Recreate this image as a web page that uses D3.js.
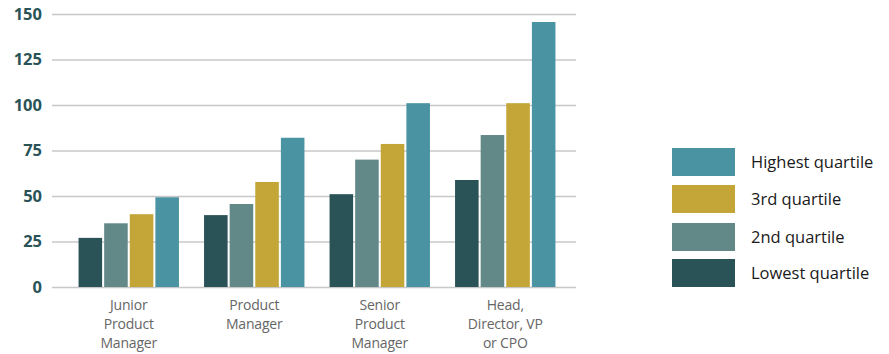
<!DOCTYPE html>
<html>
<head>
<meta charset="utf-8">
<script src="https://cdn.jsdelivr.net/npm/d3@7/dist/d3.min.js"></script>
<style>
  body { margin: 0; background: #fff; }
  svg { display: block; }
</style>
</head>
<body>
<div id="main"></div>
<script>
// data
var categories = [["Junior", "Product", "Manager"], ["Product", "Manager"], ["Senior", "Product", "Manager"], ["Head,", "Director, VP", "or CPO"]];
var seriesNames = ["Lowest quartile", "2nd quartile", "3rd quartile", "Highest quartile"];
var lowest = [27, 39.5, 51, 58.8];
var second = [35, 45.6, 70, 83.5];
var third = [40, 57.7, 78.6, 101];
var highest = [49.3, 82, 101, 145.6];
var yTicks = [0, 25, 50, 75, 100, 125, 150];
var colors = ["#2a5358", "#628888", "#c3a637", "#4a93a3"];

var width = 889, height = 354;
var translate = function(x, y) { return "translate(" + x + "," + y + ")"; };

var svg = d3.select("#main").append("svg")
    .attr("width", width)
    .attr("height", height);

var series = [lowest, second, third, highest];
var data = categories.map(function(c, i) {
  return { cat: i, values: series.map(function(s, j) { return { key: j, value: s[i] }; }) };
});

var y = d3.scaleLinear().domain([0, 150]).range([287, 14]);

var x0 = d3.scaleBand()
    .domain(d3.range(categories.length))
    .range([66, 568])
    .paddingInner(0.2)
    .paddingOuter(0.1);

var x1 = d3.scaleBand()
    .domain(d3.range(seriesNames.length))
    .range([0, x0.bandwidth()])
    .paddingInner(0.08);

// grid lines
var ga = svg.append("g")
    .attr("transform", translate(576, 0))
    .call(d3.axisRight(y).tickValues(yTicks).tickSize(-524).tickFormat(""));
ga.select(".domain").remove();
ga.selectAll(".tick line").attr("stroke", "#c8c8c8").attr("stroke-width", 1.5);

// y labels
svg.append("g").selectAll("text")
    .data(yTicks)
    .enter().append("text")
      .attr("x", 42)
      .attr("y", function(d) { return y(d); })
      .attr("dy", "0.35em")
      .attr("text-anchor", "end")
      .attr("font-family", "'Open Sans', sans-serif")
      .attr("font-weight", "bold")
      .attr("font-size", 16.5)
      .attr("fill", "#2a5358")
      .text(function(d) { return d; });

// bars
var groups = svg.selectAll(".group")
    .data(data)
    .enter().append("g")
      .attr("class", "group")
      .attr("transform", function(d) { return translate(x0(d.cat), 0); });

groups.selectAll("rect")
    .data(function(d) { return d.values; })
    .enter().append("rect")
      .attr("x", function(d) { return x1(d.key); })
      .attr("width", x1.bandwidth())
      .attr("y", function(d) { return y(d.value); })
      .attr("height", function(d) { return y(0) - y(d.value); })
      .attr("fill", function(d) { return colors[d.key]; });

// category labels
groups.each(function(d) {
  var t = d3.select(this).append("text")
      .attr("text-anchor", "middle")
      .attr("font-family", "'Open Sans', sans-serif")
      .attr("font-size", 14)
      .attr("letter-spacing", -0.2)
      .attr("fill", "#666");
  categories[d.cat].forEach(function(line, k) {
    t.append("tspan")
      .attr("x", x0.bandwidth() / 2)
      .attr("y", 310 + k * 19)
      .text(line);
  });
});

// legend
var legendOrder = [3, 2, 1, 0];
var legendY = [148, 185, 223, 259];
var legend = svg.append("g").selectAll("g")
    .data(legendOrder)
    .enter().append("g")
      .attr("transform", function(d, i) { return translate(672, legendY[i]); });

legend.append("rect")
    .attr("width", 63)
    .attr("height", 28)
    .attr("fill", function(d) { return colors[d]; });

legend.append("text")
    .attr("x", 79)
    .attr("y", 14)
    .attr("dy", "0.35em")
    .attr("font-family", "'Open Sans', sans-serif")
    .attr("font-size", 16.5)
    .attr("fill", "#1a1a1a")
    .text(function(d) { return seriesNames[d]; });
</script>
</body>
</html>
